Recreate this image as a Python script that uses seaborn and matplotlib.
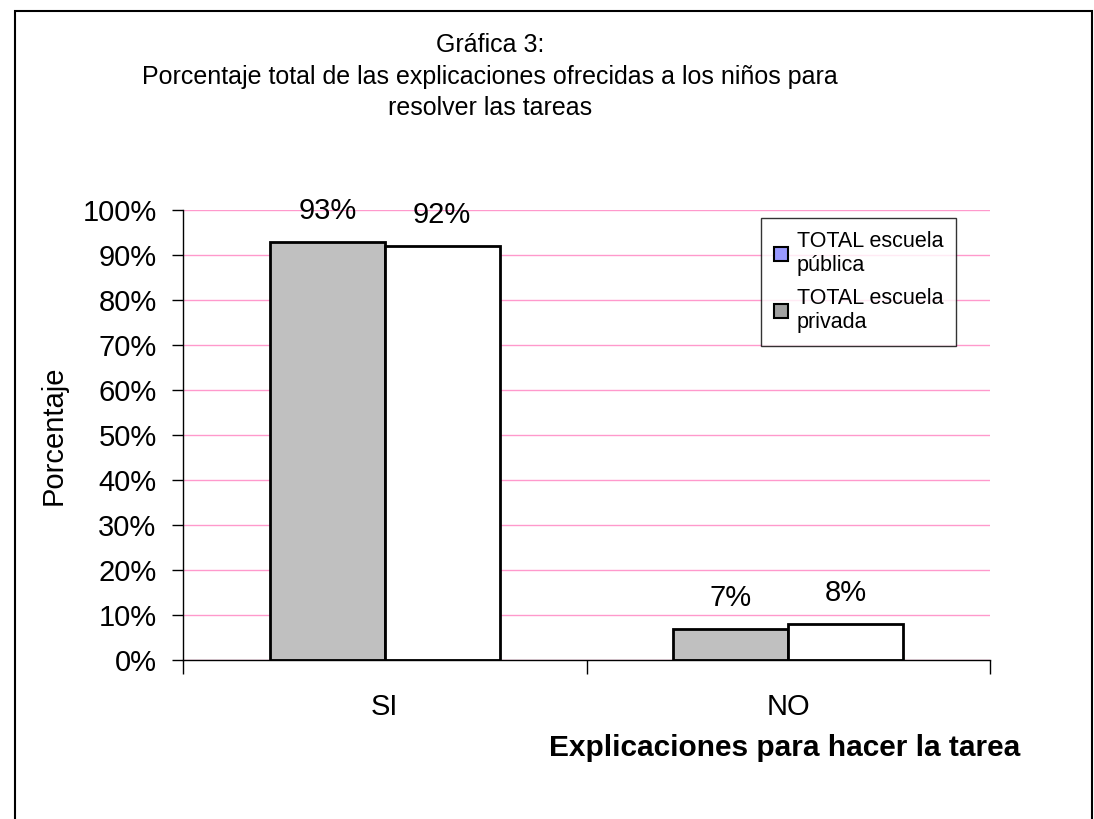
import matplotlib
matplotlib.use("Agg")
import matplotlib.pyplot as plt
import seaborn as sns
import pandas as pd
from matplotlib.patches import Patch, Rectangle
from matplotlib.ticker import FixedLocator, PercentFormatter

categories = ["SI", "NO"]
series_names = ["TOTAL escuela pública", "TOTAL escuela privada"]
publica = [93, 7]
privada = [92, 8]
yticks = list(range(0, 101, 10))

sns.set_theme(style="white")
plt.rcParams["font.family"] = ["Liberation Sans", "DejaVu Sans"]
plt.rcParams["text.color"] = "black"
plt.rcParams["axes.labelcolor"] = "black"
plt.rcParams["xtick.color"] = "black"
plt.rcParams["ytick.color"] = "black"

df = pd.DataFrame({
    "cat": categories * 2,
    "serie": [series_names[0]] * 2 + [series_names[1]] * 2,
    "val": publica + privada,
})

fig = plt.figure(figsize=(10.94, 8.19), dpi=100)
ax = fig.add_axes([183 / 1094, 1 - 660 / 819, (990 - 183) / 1094, 450 / 819])

sns.barplot(data=df, x="cat", y="val", hue="serie", order=categories,
            hue_order=series_names, palette=["#C0C0C0", "#FFFFFF"],
            width=0.57, gap=0, edgecolor="black", linewidth=2.0,
            saturation=1, ax=ax, legend=False)

ax.set_ylim(0, 100)
ax.set_xlim(-0.5, 1.5)
ax.yaxis.set_major_locator(FixedLocator(yticks))
ax.yaxis.set_major_formatter(PercentFormatter(decimals=0))
ax.grid(axis="y", color="#FF99CC", linewidth=1.0)
ax.set_axisbelow(True)
for s in ["top", "right"]:
    ax.spines[s].set_visible(False)
for s in ["left", "bottom"]:
    ax.spines[s].set_color("black")
    ax.spines[s].set_linewidth(1.0)
ax.tick_params(axis="y", which="major", direction="out", length=8, width=1,
               color="black", labelsize=21, pad=11, left=True, labelcolor="black")
ax.tick_params(axis="x", which="major", length=0, labelsize=21, pad=24,
               labelcolor="black")
ax.xaxis.set_minor_locator(FixedLocator([-0.5, 0.5, 1.5]))
ax.tick_params(axis="x", which="minor", direction="out", length=10, width=1,
               color="black", bottom=True)
ax.set_xlabel("")
ax.set_ylabel("Porcentaje", fontsize=21, color="black", va="center")
ax.yaxis.set_label_coords((54 - 183) / 807, 0.5)

for cont in ax.containers:
    ax.bar_label(cont, labels=[f"{v:.0f}%" for v in cont.datavalues],
                 fontsize=21, padding=12, color="black")

fig.text(490 / 1094, 1 - 45 / 819, "Gráfica 3:", ha="center", va="center", fontsize=18)
fig.text(490 / 1094, 1 - 77 / 819,
         "Porcentaje total de las explicaciones ofrecidas a los niños para",
         ha="center", va="center", fontsize=18)
fig.text(490 / 1094, 1 - 108 / 819, "resolver las tareas",
         ha="center", va="center", fontsize=18)
fig.text(1020 / 1094, 1 - 748 / 819, "Explicaciones para hacer la tarea",
         ha="right", va="center", fontsize=21.5, fontweight="bold")

handles = [Patch(facecolor="#9999FF", edgecolor="black", linewidth=1.5),
           Patch(facecolor="#A0A0A0", edgecolor="black", linewidth=1.5)]
leg = fig.legend(handles, ["TOTAL escuela\npública", "TOTAL escuela\nprivada"],
                 loc="upper left", bbox_to_anchor=(761 / 1094, 1 - 218 / 819),
                 fontsize=15.5, frameon=True, fancybox=False, edgecolor="black",
                 handlelength=0.65, handleheight=0.65, handletextpad=0.4,
                 borderpad=0.6, labelspacing=0.55, borderaxespad=0)
leg.get_frame().set_linewidth(1.0)
for t in leg.get_texts():
    t.set_color("black")

fig.patches.append(Rectangle((15 / 1094, -0.1), (1092 - 15) / 1094, 1.1 - 11 / 819,
                             transform=fig.transFigure, fill=False,
                             edgecolor="black", linewidth=1.5))

fig.savefig("out.png", dpi=100)
